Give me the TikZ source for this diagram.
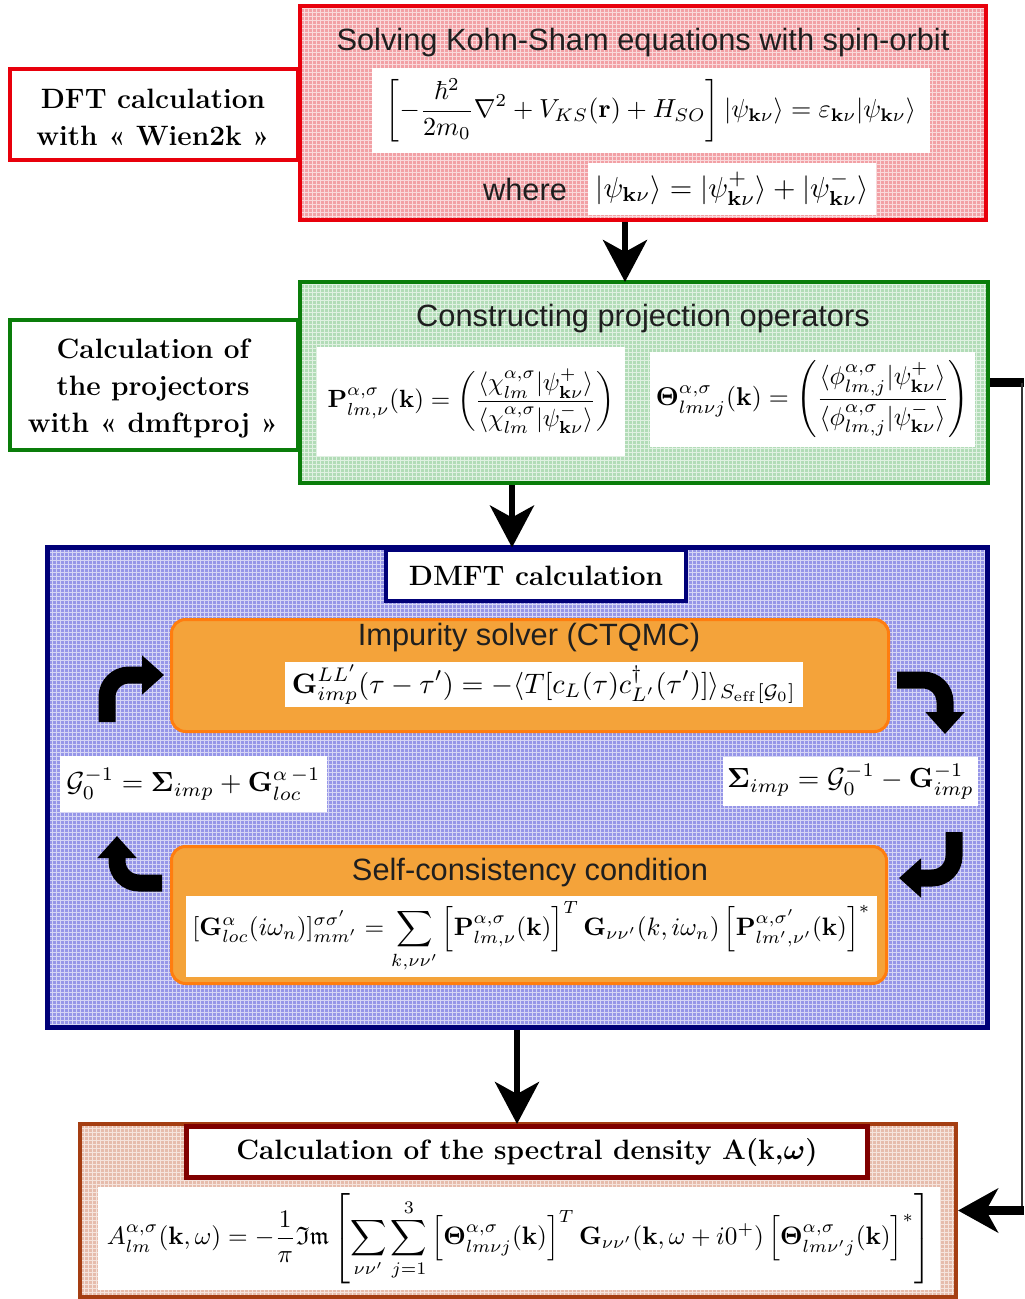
\documentclass[tikz,border=0pt]{standalone}
\usepackage{amsmath,amssymb,bm}
\usepackage{graphicx}
\usepackage[no-math]{fontspec}
\setsansfont{Liberation Sans}
\usetikzlibrary{arrows.meta,fit,calc}
\definecolor{kred}{RGB}{232,0,12}
\definecolor{kredfill}{RGB}{242,160,165}
\definecolor{kgreen}{RGB}{10,125,10}
\definecolor{kgreenfill}{RGB}{178,220,183}
\definecolor{knavy}{RGB}{0,0,120}
\definecolor{kbluefill}{RGB}{150,150,232}
\definecolor{kbrown}{RGB}{165,62,18}
\definecolor{kdarkred}{RGB}{128,0,0}
\definecolor{kpeach}{RGB}{230,188,172}
\definecolor{korange}{RGB}{244,163,58}
\definecolor{korangeb}{RGB}{255,125,15}
\newcommand{\fw}[2]{\resizebox{#1}{!}{$\displaystyle #2$}}
\begin{document}
\begin{tikzpicture}[x=0.5pt,y=-0.5pt,
  box/.style={inner sep=0pt, outer sep=0pt},
  wbox/.style={fill=white, inner sep=0pt, outer sep=0pt},
  lbl/.style={font=\bfseries\fontsize{14}{18.5}\selectfont, align=center},
  hd/.style={font=\sffamily\fontsize{15.4}{18}\selectfont, text=black!88},
  gridl/.style={draw=white, line width=0.3pt, opacity=0.6},
  bigarr/.style={line width=3pt, -{Stealth[length=21pt,width=22pt,inset=6pt]}},
  curvarr/.style={line width=8.5pt, rounded corners=11pt, -{Triangle[length=11pt,width=19pt]}}]
\useasboundingbox[fill=white] (0,0) rectangle (1024,1299);

% ---------- DFT ----------
\node[box, fit={(10,69)(298,160)}, draw=kred, line width=2pt, fill=white] (dft) {};
\node[lbl] (dftt) at (153,117) {DFT calculation\\with « Wien2k »};
\node[box, fit={(300,6)(986,220)}, fill=kredfill] (ks) {};
\draw[gridl, step=2pt] (302,8) grid (984,218);
\node[box, fit={(300,6)(986,220)}, draw=kred, line width=2pt] (ksb) {};
\node[hd] (ksh) at (643,43) {Solving Kohn-Sham equations with spin-orbit};
\node[wbox, fit={(372,68)(930,153)}] (ksbox) {};
\node (kseq) at (ksbox.center) {\fw{265pt}{\left[-\frac{\hbar^2}{2m_0}\nabla^2+V_{KS}(\mathbf{r})+H_{SO}\right]|\psi_{\mathbf{k}\nu}\rangle=\varepsilon_{\mathbf{k}\nu}|\psi_{\mathbf{k}\nu}\rangle}};
\node[hd] (where) at (525,189) {where};
\node[wbox, fit={(588,163)(876,215)}] (wbox) {};
\node (weq) at (wbox.center) {\fw{136.5pt}{|\psi_{\mathbf{k}\nu}\rangle=|\psi^{+}_{\mathbf{k}\nu}\rangle+|\psi^{-}_{\mathbf{k}\nu}\rangle}};

% ---------- Projectors ----------
\node[box, fit={(10,320)(298,450)}, draw=kgreen, line width=2pt, fill=white] (projlab) {};
\node[lbl] (projt) at (153,388) {Calculation of\\the projectors\\with « dmftproj »};
\node[box, fit={(300,282)(988,483)}, fill=kgreenfill] (proj) {};
\draw[gridl, step=2pt] (302,284) grid (986,481);
\node[box, fit={(300,282)(988,483)}, draw=kgreen, line width=2pt] (projb) {};
\node[hd] (projh) at (643,319) {Constructing projection operators};
\node[wbox, fit={(317,347)(625,456)}] (pbox) {};
\node (peq) at (pbox.center) {\fw{143.5pt}{\mathbf{P}^{\alpha,\sigma}_{lm,\nu}(\mathbf{k})=\left(\frac{\langle\chi^{\alpha,\sigma}_{lm}|\psi^{+}_{\mathbf{k}\nu}\rangle}{\langle\chi^{\alpha,\sigma}_{lm}|\psi^{-}_{\mathbf{k}\nu}\rangle}\right)}};
\node[wbox, fit={(650,352)(975,447)}] (tbox) {};
\node (teq) at (tbox.center) {\fw{156.5pt}{\bm{\Theta}^{\alpha,\sigma}_{lm\nu j}(\mathbf{k})=\left(\frac{\langle\phi^{\alpha,\sigma}_{lm,j}|\psi^{+}_{\mathbf{k}\nu}\rangle}{\langle\phi^{\alpha,\sigma}_{lm,j}|\psi^{-}_{\mathbf{k}\nu}\rangle}\right)}};

% ---------- DMFT ----------
\node[box, fit={(47.5,547.5)(987.5,1027.5)}, fill=kbluefill] (dmft) {};
\draw[gridl, step=2pt] (50,550) grid (985,1025);
\node[box, fit={(47.5,547.5)(987.5,1027.5)}, draw=knavy, line width=2.5pt] (dmftb) {};
\node[box, fit={(386,550)(686,601)}, draw=knavy, line width=2pt, fill=white] (dmfttitle) {};
\node[lbl] (dmftt) at (dmfttitle.center) {DMFT calculation};

\node[box, fit={(171.5,619.5)(888.5,731.5)}, draw=korangeb, line width=1.5pt, fill=korange, rounded corners=7pt] (imp) {};
\node[hd] (imph) at (529,638) {Impurity solver (CTQMC)};
\node[wbox, fit={(285,662)(803,707)}] (impbox) {};
\node (impeq) at (impbox.center) {\fw{252pt}{\mathbf{G}^{LL'}_{imp}(\tau-\tau')=-\langle T[c_L(\tau)c^{\dagger}_{L'}(\tau')]\rangle_{S_{\mathrm{eff}}[\mathcal{G}_0]}}};

\node[wbox, fit={(60,756)(327,812)}] (g0box) {};
\node (g0eq) at (g0box.center) {\fw{127pt}{\mathcal{G}_0^{-1}=\bm{\Sigma}_{imp}+\mathbf{G}^{\alpha\,-1}_{loc}}};
\node[wbox, fit={(723,757)(978,806)}] (sigbox) {};
\node (sigeq) at (sigbox.center) {\fw{123.5pt}{\bm{\Sigma}_{imp}=\mathcal{G}_0^{-1}-\mathbf{G}^{-1}_{imp}}};

\node[box, fit={(171.5,846.5)(886.5,983.5)}, draw=korangeb, line width=1.5pt, fill=korange, rounded corners=7pt] (sc) {};
\node[hd] (sch) at (530,873) {Self-consistency condition};
\node[wbox, fit={(186,896)(877,977)}] (scbox) {};
\node (sceq) at (scbox.center) {\fw{339pt}{[\mathbf{G}^{\alpha}_{loc}(i\omega_n)]^{\sigma\sigma'}_{mm'}=\sum_{k,\nu\nu'}\left[\mathbf{P}^{\alpha,\sigma}_{lm,\nu}(\mathbf{k})\right]^T\mathbf{G}_{\nu\nu'}(k,i\omega_n)\left[\mathbf{P}^{\alpha,\sigma'}_{lm',\nu'}(\mathbf{k})\right]^*}};

% loop arrows
\coordinate (tl1) at (107,722); \coordinate (tl2) at (164,675);
\coordinate (bl1) at (162,883); \coordinate (bl2) at (117,836);
\coordinate (tr1) at (897,680); \coordinate (tr2) at (945,734);
\coordinate (br1) at (954,832); \coordinate (br2) at (899,878);
\draw[curvarr] (tl1) |- (tl2);
\draw[curvarr] (bl1) -| (bl2);
\draw[curvarr] (tr1) -| (tr2);
\draw[curvarr] (br1) |- (br2);

% ---------- Spectral ----------
\node[box, fit={(80,1124)(956,1297)}, fill=kpeach] (spec) {};
\draw[gridl, step=2pt] (82,1126) grid (954,1295);
\node[box, fit={(80,1124)(956,1297)}, draw=kbrown, line width=2pt] (specb) {};
\node[box, fit={(186.5,1126.5)(867.5,1177.5)}, draw=kdarkred, line width=2.5pt, fill=white] (spectitle) {};
\node[lbl] (spect) at (spectitle.center) {Calculation of the spectral density A(k,$\bm{\omega}$)};
\node[wbox, fit={(98,1187)(940,1290)}] (specbox) {};
\node (speceq) at (specbox.center) {\fw{412pt}{A^{\alpha,\sigma}_{lm}(\mathbf{k},\omega)=-\frac{1}{\pi}\mathfrak{Im}\left[\sum_{\nu\nu'}\sum_{j=1}^{3}\left[\bm{\Theta}^{\alpha,\sigma}_{lm\nu j}(\mathbf{k})\right]^T\mathbf{G}_{\nu\nu'}(\mathbf{k},\omega+i0^+)\left[\bm{\Theta}^{\alpha,\sigma}_{lm\nu' j}(\mathbf{k})\right]^*\right]}};

% ---------- connectors ----------
\coordinate (xa) at (625,0);
\coordinate (xb) at (512,0);
\coordinate (xc) at (517,0);
\coordinate (xr) at (1022,0);
\coordinate (xe) at (1024,0);
\draw[bigarr, shorten <=1pt] (ks.south -| xa) -- (proj.north -| xa);
\draw[bigarr, shorten <=1pt] (proj.south -| xb) -- (dmft.north -| xb);
\draw[bigarr, shorten <=1.2pt] (dmft.south -| xc) -- (spec.north -| xc);
\draw[line width=4.5pt] ($(proj.east)+(2,0)$) -- (proj.east -| xe);
\draw[line width=0.8pt, black!80] (proj.east -| xr) -- (spec.east -| xr);
\draw[line width=4.5pt, -{Stealth[length=20pt,width=22pt,inset=6pt]}] (spec.east -| xe) -- ($(spec.east)+(2,0)$);
\end{tikzpicture}
\end{document}
